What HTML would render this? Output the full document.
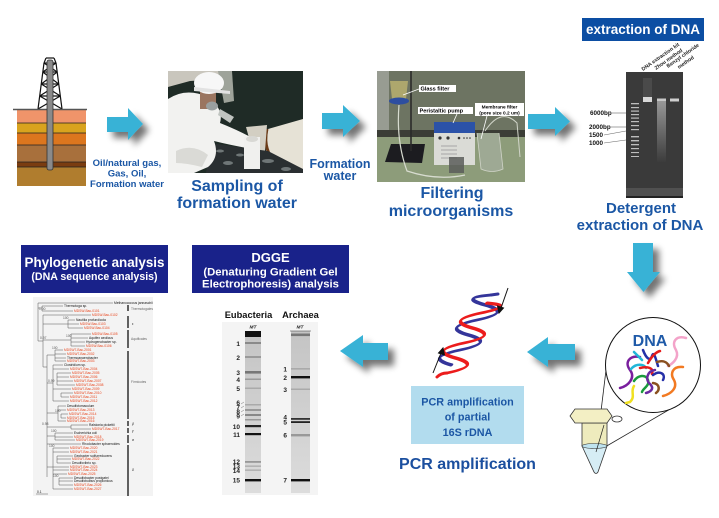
<!DOCTYPE html>
<html><head><meta charset="utf-8">
<style>
html,body{margin:0;padding:0;background:#fff;}
body{width:719px;height:518px;overflow:hidden;}
svg{display:block;}
text{font-family:"Liberation Sans",Arial,sans-serif;font-weight:bold;}
.t text{font-weight:normal;font-size:3.3px;}
</style></head><body>
<svg width="719" height="518" viewBox="0 0 719 518" xmlns="http://www.w3.org/2000/svg">
<defs>
<filter id="sh" x="-60%" y="-60%" width="240%" height="240%">
<feGaussianBlur in="SourceAlpha" stdDeviation="3.5" result="b"/>
<feOffset in="b" dx="6" dy="6" result="o"/>
<feComponentTransfer in="o" result="s"><feFuncA type="linear" slope="0.55"/></feComponentTransfer>
<feMerge><feMergeNode in="s"/><feMergeNode in="SourceGraphic"/></feMerge>
</filter>
<linearGradient id="smear" x1="0" y1="0" x2="0" y2="1">
<stop offset="0" stop-color="#9a9a9a"/><stop offset="0.5" stop-color="#6a6a6a"/><stop offset="1" stop-color="#3c3c3c"/>
</linearGradient>
<linearGradient id="lane" x1="0" y1="0" x2="0" y2="1">
<stop offset="0" stop-color="#c4c4c4"/><stop offset="1" stop-color="#dcdcdc"/>
</linearGradient>
</defs>

<!-- ===== Oil well ===== -->
<rect x="17" y="109" width="69" height="14" fill="#f0946a"/>
<rect x="17" y="123" width="69" height="10" fill="#d9a31e"/>
<rect x="17" y="133" width="69" height="12" fill="#dc761e"/>
<rect x="17" y="145" width="69" height="17" fill="#a8703c"/>
<rect x="17" y="162" width="69" height="5" fill="#7a3c10"/>
<rect x="17" y="167" width="69" height="19" fill="#b07d2e"/>
<g stroke="#222" stroke-width="0.8">
<line x1="17" y1="123" x2="86" y2="123"/><line x1="17" y1="133" x2="86" y2="133"/>
<line x1="17" y1="145" x2="86" y2="145"/><line x1="17" y1="162" x2="86" y2="162"/>
<line x1="17" y1="167" x2="86" y2="167"/>
</g>
<g stroke="#111" stroke-width="1.2" fill="none">
<line x1="38" y1="109" x2="44" y2="63"/><line x1="62" y1="109" x2="56" y2="63"/>
<line x1="44" y1="63" x2="56" y2="63"/>
<line x1="42.8" y1="72" x2="57.2" y2="72"/><line x1="41.3" y1="84" x2="58.7" y2="84"/>
<line x1="39.7" y1="96" x2="60.3" y2="96"/>
<line x1="44" y1="63" x2="57.2" y2="72"/><line x1="56" y1="63" x2="42.8" y2="72"/>
<line x1="42.8" y1="72" x2="58.7" y2="84"/><line x1="57.2" y1="72" x2="41.3" y2="84"/>
<line x1="41.3" y1="84" x2="60.3" y2="96"/><line x1="58.7" y1="84" x2="39.7" y2="96"/>
<line x1="39.7" y1="96" x2="62" y2="109"/><line x1="60.3" y1="96" x2="38" y2="109"/>
<line x1="46" y1="58" x2="54" y2="58"/><line x1="46" y1="58" x2="44" y2="63"/><line x1="54" y1="58" x2="56" y2="63"/>
</g>
<line x1="13" y1="109.5" x2="87" y2="109.5" stroke="#555" stroke-width="1.5"/>
<rect x="47" y="60" width="6" height="110" rx="2" fill="#8a8a8a" stroke="#333" stroke-width="0.8"/>

<text x="127" y="166" font-size="9.5" fill="#1b57a5" text-anchor="middle">Oil/natural gas,</text>
<text x="127" y="176.5" font-size="9.5" fill="#1b57a5" text-anchor="middle">Gas, Oil,</text>
<text x="127" y="187" font-size="9.5" fill="#1b57a5" text-anchor="middle">Formation water</text>

<!-- ===== Arrows ===== -->
<g fill="#37b2d6" filter="url(#sh)">
<polygon points="107,117 128,117 128,108 143,124 128,140 128,132 107,132"/>
<polygon points="322,113 343,113 343,105 360,121 343,137 343,129 322,129"/>
<polygon points="528,114 555,114 555,107 570,121.5 555,136 555,129 528,129"/>
<polygon points="633,243 653,243 653,272 660,272 643.5,292 627,272 633,272"/>
<polygon points="527,352 548,337 548,344 575,344 575,360 548,360 548,367"/>
<polygon points="340,351 363,335 363,343 388,343 388,360 363,360 363,367"/>
</g>

<!-- ===== Photo 1: sampling ===== -->
<g transform="translate(168,71)">
<rect width="135" height="102" fill="#1f2b26"/>
<polygon points="0,0 64,0 56,8 22,10 0,16" fill="#c9c6bd"/>
<polygon points="50,0 64,0 66,30 56,32" fill="#9ea39a"/>
<polygon points="100,58 135,48 135,102 112,96 98,80" fill="#e6e2d6"/>
<path d="M99,58 Q95,74 104,88 L114,97" stroke="#6b3a16" stroke-width="3" fill="none"/>
<polygon points="78,56 99,54 97,80 84,78" fill="#d3cfc3"/>
<polygon points="42,72 100,80 135,98 135,102 38,102" fill="#2a2f31"/>
<g fill="#8d9595" opacity="0.7">
<ellipse cx="60" cy="92" rx="5" ry="2"/><ellipse cx="100" cy="90" rx="6" ry="2"/>
<ellipse cx="118" cy="98" rx="5" ry="2"/><ellipse cx="72" cy="84" rx="4" ry="1.5"/>
<ellipse cx="52" cy="80" rx="4" ry="1.5"/>
</g>
<path d="M0,28 Q18,16 40,26 Q56,38 52,52 Q72,60 86,68 L84,78 Q62,74 46,70 Q52,86 40,96 L26,102 L0,102 Z" fill="#f2f2f0"/>
<path d="M8,80 Q25,72 40,84 L34,96 Q18,92 8,92 Z" fill="#dadad6"/>
<rect x="32" y="20" width="16" height="18" fill="#9a7560"/>
<ellipse cx="44" cy="35" rx="6" ry="4.5" fill="#9aa0a0"/>
<ellipse cx="41" cy="12" rx="15" ry="11" fill="#f7f7f7"/>
<path d="M26,16 L62,20 L62,23 L26,20Z" fill="#e2e2e2"/>
<path d="M52,38 L66,46 L62,52 L50,44Z" fill="#c0c4c0"/>
<rect x="76" y="66" width="16" height="32" fill="#f0f0ee"/>
<ellipse cx="84" cy="68" rx="6" ry="3" fill="#d8d8d4"/>
</g>
<text x="237" y="191" font-size="16" fill="#1b57a5" text-anchor="middle">Sampling of</text>
<text x="237" y="208" font-size="16" fill="#1b57a5" text-anchor="middle">formation water</text>

<text x="340" y="168" font-size="12.5" fill="#1b57a5" text-anchor="middle">Formation</text>
<text x="340" y="180" font-size="12.5" fill="#1b57a5" text-anchor="middle">water</text>

<!-- ===== Photo 2: filtering ===== -->
<g transform="translate(377,71)">
<rect width="148" height="111" fill="#6d7462"/>
<rect x="0" y="0" width="12" height="60" fill="#989c92"/>
<rect x="0" y="59" width="148" height="7" fill="#3b3d36"/>
<rect x="0" y="66" width="148" height="45" fill="#8d9c7a"/>
<polygon points="8,91 14,73 48,73 45,92" fill="#1c1c20"/>
<line x1="34" y1="0" x2="34" y2="80" stroke="#2a2a2a" stroke-width="1.6"/>
<path d="M13,10 L31,10 L29,28 L15,28Z" fill="#b8b070" opacity="0.85"/>
<ellipse cx="22" cy="30" rx="10" ry="3.5" fill="#2d4ea0"/>
<path d="M22,34 Q19,70 30,100 Q60,110 88,104" stroke="#d8dcd0" stroke-width="1.2" fill="none"/>
<rect x="57" y="51" width="41" height="11" fill="#2b52a8"/>
<rect x="57" y="62" width="41" height="32" fill="#dadbd6"/>
<g fill="#333"><circle cx="63" cy="67" r="1.6"/><circle cx="71" cy="67" r="1.6"/><circle cx="82" cy="67" r="1.3"/><circle cx="87" cy="67" r="0.8"/><circle cx="90" cy="67" r="0.8"/><circle cx="93" cy="67" r="0.8"/></g>
<g stroke="#999" stroke-width="0.8"><line x1="64" y1="75" x2="80" y2="75"/><line x1="64" y1="79" x2="80" y2="79"/><line x1="64" y1="83" x2="80" y2="83"/><line x1="64" y1="87" x2="80" y2="87"/></g>
<rect x="72" y="86" width="15" height="16" fill="#5a5d5a" opacity="0.85"/>
<path d="M100,62 L104,98 Q115,103 126,98 L122,62" fill="#9ea994" stroke="#d0d4c8" stroke-width="0.8"/>
<path d="M108,60 Q124,36 140,52 L143,86" stroke="#d0d4c8" stroke-width="1" fill="none"/>
<rect x="42" y="14" width="37" height="7" fill="#fff"/>
<text x="43.5" y="19.5" font-size="5.6" fill="#000">Glass filter</text>
<line x1="42" y1="18" x2="26" y2="24" stroke="#fff" stroke-width="0.8"/>
<rect x="41" y="36" width="55" height="7" fill="#fff"/>
<text x="42.5" y="41.5" font-size="5.6" fill="#000">Peristaltic pump</text>
<line x1="80" y1="43" x2="76" y2="52" stroke="#fff" stroke-width="0.8"/>
<rect x="98" y="32" width="49" height="13" fill="#fff"/>
<text x="122.5" y="37.5" font-size="4.8" fill="#000" text-anchor="middle">Membrane filter</text>
<text x="122.5" y="43.3" font-size="4.8" fill="#000" text-anchor="middle">(pore size 0.2 um)</text>
<line x1="110" y1="45" x2="104" y2="68" stroke="#fff" stroke-width="0.8"/>
</g>
<text x="452" y="198" font-size="16" fill="#1b57a5" text-anchor="middle">Filtering</text>
<text x="451" y="216" font-size="16" fill="#1b57a5" text-anchor="middle">microorganisms</text>

<!-- ===== Extraction of DNA ===== -->
<rect x="582" y="18" width="122" height="23" fill="#0c4ea3"/>
<text x="643" y="34" font-size="13.5" fill="#fff" text-anchor="middle">extraction of DNA</text>
<g font-size="5.2" fill="#222">
<text transform="translate(643,71) rotate(-35)">DNA extraction kit</text>
<text transform="translate(656,70) rotate(-35)">Zhou method</text>
<text transform="translate(668,68) rotate(-35)">Benzyl chloride</text>
<text transform="translate(679,69) rotate(-35)">method</text>
</g>
<rect x="626" y="72" width="57" height="126" fill="#3a3a3a"/>
<rect x="626" y="188" width="57" height="8" fill="#505050"/>
<rect x="626" y="196" width="57" height="2" fill="#222"/>
<g fill="#bdbdbd">
<rect x="631" y="103" width="8" height="1.3"/><rect x="631" y="107" width="8" height="1.2"/><rect x="631" y="110.5" width="8" height="1.2"/>
<rect x="631" y="114" width="8" height="1.2"/><rect x="631" y="117.5" width="8" height="1.2"/><rect x="631" y="121" width="8" height="1.2"/>
<rect x="631" y="125" width="8" height="1.2"/><rect x="631" y="129" width="8" height="1.2"/>
<rect x="631" y="136" width="8" height="1.4"/><rect x="631" y="140" width="8" height="1.4"/><rect x="631" y="144" width="8" height="1.3"/>
<rect x="631" y="148" width="8" height="1.2"/><rect x="631" y="152" width="8" height="1.1"/><rect x="631" y="156" width="8" height="1"/>
</g>
<rect x="643" y="78" width="9" height="20" fill="#4a4a4a"/>
<rect x="643" y="97" width="9" height="5" fill="#d8d8d8"/>
<rect x="657" y="100" width="9" height="62" fill="url(#smear)"/>
<rect x="657" y="98.5" width="9" height="2.5" fill="#c8c8c8"/>
<rect x="670" y="98.5" width="9" height="3" fill="#cfcfcf"/>
<g font-size="6.3" fill="#111">
<text x="590" y="115">6000bp</text>
<text x="589" y="129">2000bp</text>
<text x="589" y="137">1500</text>
<text x="589" y="145">1000</text>
</g>
<g stroke="#666" stroke-width="0.6">
<line x1="612" y1="113" x2="626" y2="113"/><line x1="611" y1="127" x2="626" y2="127"/>
<line x1="604" y1="135" x2="626" y2="131"/><line x1="604" y1="143" x2="626" y2="140"/>
</g>
<text x="641" y="213" font-size="15" fill="#1b57a5" text-anchor="middle">Detergent</text>
<text x="640" y="230" font-size="15" fill="#1b57a5" text-anchor="middle">extraction of DNA</text>

<!-- ===== Tube + circle ===== -->
<g stroke="#222" stroke-width="0.8">
<line x1="596" y1="452" x2="607" y2="362"/>
<line x1="605" y1="447" x2="672" y2="408"/>
</g>
<circle cx="653" cy="365" r="47.5" fill="#fff" stroke="#111" stroke-width="1"/>
<path d="M582,446 L594,472 Q596,475 598,472 L607,446 Z" fill="#d6edf5" stroke="#333" stroke-width="0.8"/>
<rect x="582" y="423" width="25" height="23" fill="#eeebbd" stroke="#333" stroke-width="0.8"/>
<ellipse cx="594.5" cy="446" rx="12.5" ry="2.5" fill="#bfe3ef" stroke="#333" stroke-width="0.6"/>
<ellipse cx="617" cy="419" rx="5" ry="3" fill="none" stroke="#333" stroke-width="0.8"/>
<polygon points="570,416 575,409 607,409 612,416 607,423 575,423" fill="#f3efc4" stroke="#333" stroke-width="0.8"/>
<line x1="596" y1="452" x2="604" y2="425" stroke="#222" stroke-width="0.7"/>
<g fill="none" stroke-width="2.5" stroke-linecap="round">
<path d="M686,338 C676,335 671,342 676,350 C680,358 672,364 668,366" stroke="#f3a3c9"/>
<path d="M683,367 C672,366 670,374 674,380 C678,388 671,394 663,396" stroke="#f27a22"/>
<path d="M640,357 C630,355 624,362 630,370 C636,378 628,386 620,388" stroke="#7a1f9e"/>
<path d="M634,352 L642,360" stroke="#22b7d8"/>
<path d="M631,369 C636,363 644,364 646,368" stroke="#22b7d8"/>
<path d="M643,350 C646,358 650,362 652,356 C654,350 656,360 658,366" stroke="#2530a8"/>
<path d="M648,363 C652,356 656,352 660,351" stroke="#e61b1b"/>
<path d="M640,368 C648,366 654,368 652,374" stroke="#e61b1b"/>
<path d="M634,381 C638,375 646,374 648,380 C650,386 643,388 642,392" stroke="#1a9a3c"/>
<path d="M634,386 C630,392 636,396 630,402 L626,403" stroke="#f0e020"/>
<path d="M655,370 C647,371 645,380 650,384 C655,389 650,392 646,393" stroke="#6a2aa0"/>
<path d="M653,375 C660,370 666,374 663,380" stroke="#2530a8"/>
<path d="M657,362 C663,360 667,362 669,366" stroke="#8a5020"/>
<path d="M653,383 C660,384 660,390 656,393" stroke="#8a5020"/>
</g>
<text x="650" y="346" font-size="16" fill="#1f5aa8" text-anchor="middle">DNA</text>

<!-- ===== Helix ===== -->
<g transform="translate(447,373) skewX(-29.5)" fill="none" stroke-width="3" stroke-linecap="round">
<path d="M0,-8 Q-32,-15.5 0,-23 T0,-38 T0,-53 T0,-68 T0,-78" stroke="#34359a"/>
<path d="M0,0 Q32,-7.5 0,-15 T0,-30 T0,-45 T0,-60 T0,-70" stroke="#ec1c1c"/>
</g>
<path d="M437,377 Q441,373 447,373" stroke="#ec1c1c" stroke-width="3" fill="none" stroke-linecap="round"/>
<path d="M491,295 L498,294" stroke="#34359a" stroke-width="3" fill="none" stroke-linecap="round"/>
<g stroke="#111" stroke-width="1" fill="#111">
<line x1="508" y1="288" x2="501" y2="308"/><polygon points="499,313 497.5,306 503.5,308"/>
<line x1="433" y1="373" x2="441" y2="353"/><polygon points="443,348 444.5,355 438.5,353"/>
</g>

<!-- ===== PCR box ===== -->
<rect x="411" y="386" width="113" height="58" fill="#b2dcee"/>
<text x="467.5" y="405.5" font-size="10.8" fill="#1b56a4" text-anchor="middle">PCR amplification</text>
<text x="467.5" y="420.5" font-size="10.8" fill="#1b56a4" text-anchor="middle">of partial</text>
<text x="467.5" y="436" font-size="10.8" fill="#1b56a4" text-anchor="middle">16S rDNA</text>
<text x="467.5" y="469" font-size="16" fill="#1b4f9f" text-anchor="middle">PCR amplification</text>

<!-- ===== Headers bottom ===== -->
<rect x="21" y="245" width="147" height="48" fill="#19228a"/>
<text x="94.5" y="267" font-size="13.4" fill="#fff" text-anchor="middle">Phylogenetic analysis</text>
<text x="94.5" y="280" font-size="10.6" fill="#fff" text-anchor="middle">(DNA sequence analysis)</text>
<rect x="192" y="245" width="157" height="48" fill="#19228a"/>
<text x="270.5" y="262" font-size="13" fill="#fff" text-anchor="middle">DGGE</text>
<text x="270.5" y="275.5" font-size="11.3" fill="#fff" text-anchor="middle">(Denaturing Gradient Gel</text>
<text x="270.5" y="287.5" font-size="11.3" fill="#fff" text-anchor="middle">Electrophoresis) analysis</text>

<!-- ===== Phylogenetic tree ===== -->
<g transform="translate(33,297)" class="t">
<rect width="120" height="199" fill="#f3f3f3"/>
<g stroke="#555" stroke-width="0.5" fill="none">
<path d="M5,6V44M5,6H80M5,11H9M9,9V14M9,9H30M9,14H40M5,44H10"/>
<path d="M10,18V70M10,18H58M10,27H35M35,23V31M35,23H42M35,27H46M35,31H50M10,43H38M38,37V49M38,37H58M38,41H55M38,45H52M38,49H52M10,70H14"/>
<path d="M14,58V180M14,58H22M22,53V64M22,53H30M22,57H33M22,61H33M22,64H33"/>
<path d="M14,86H20M20,68V104M20,68H30M20,72H36M24,76V88M24,76H38M24,80H36M24,84H40M24,88H42M20,92H38M28,96V100M28,96H40M28,100H36M20,104H36"/>
<path d="M14,116H25M25,109V124M25,109H33M25,113H33M28,117V121M28,117H35M28,121H33M25,124H33"/>
<path d="M14,130H38M38,128V132M38,128H55M38,132H58"/>
<path d="M14,139H22M22,136V143M22,136H40M22,140H40M22,143H42M14,147H48"/>
<path d="M14,170H20M20,151V192M20,151H36M20,155H36M24,159V166M24,159H40M24,162H38M24,166H38M20,170H36M20,173H36M20,177H34M26,181V188M26,181H40M26,184H40M26,188H40M20,192H40"/>
<path d="M3,197H15"/>
</g>
<g fill="#111">
<text x="81" y="7.2">Methanococcus jannaschii</text>
<text x="31" y="10.2">Thermotoga sp.</text>
<text x="43" y="24.2">Nautilia profundicola</text>
<text x="56" y="42.2">Aquifex aeolicus</text>
<text x="53" y="46.2">Hydrogenobacter sp.</text>
<text x="34" y="62.2">Thermoanaerobacter</text>
<text x="31" y="69.2">Clostridium sp.</text>
<text x="34" y="110.2">Desulfotomaculum</text>
<text x="56" y="129.2">Ralstonia pickettii</text>
<text x="41" y="137.2">Escherichia coli</text>
<text x="49" y="148.2">Rhodobacter sphaeroides</text>
<text x="41" y="160.2">Geobacter sulfurreducens</text>
<text x="39" y="167.2">Desulfovibrio sp.</text>
<text x="41" y="182.2">Desulfobacter postgatei</text>
<text x="41" y="185.2">Desulfobulbus propionicus</text>
<text x="4" y="196">0.1</text>
</g>
<g fill="#e8461e">
<text x="41" y="15.2">MDSW-Bac-0101</text>
<text x="59" y="19.2">MDSW-Bac-0102</text>
<text x="47" y="28.2">MDSW-Bac-0103</text>
<text x="51" y="32.2">MDSW-Bac-0104</text>
<text x="59" y="38.2">MDSW-Bac-0105</text>
<text x="53" y="50.2">MDSW-Bac-0106</text>
<text x="31" y="54.2">MDSW7-Bac-2001</text>
<text x="34" y="58.2">MDSW7-Bac-2002</text>
<text x="34" y="65.2">MDSW7-Bac-2003</text>
<text x="37" y="73.2">MDSW7-Bac-2004</text>
<text x="39" y="77.2">MDSW7-Bac-2005</text>
<text x="37" y="81.2">MDSW7-Bac-2006</text>
<text x="41" y="85.2">MDSW7-Bac-2007</text>
<text x="43" y="89.2">MDSW7-Bac-2008</text>
<text x="39" y="93.2">MDSW7-Bac-2009</text>
<text x="41" y="97.2">MDSW7-Bac-2010</text>
<text x="37" y="101.2">MDSW7-Bac-2011</text>
<text x="37" y="105.2">MDSW7-Bac-2012</text>
<text x="34" y="114.2">MDSW7-Bac-2013</text>
<text x="36" y="118.2">MDSW7-Bac-2014</text>
<text x="34" y="122.2">MDSW7-Bac-2015</text>
<text x="34" y="125.2">MDSW7-Bac-2016</text>
<text x="59" y="133.2">MDSW7-Bac-2017</text>
<text x="41" y="141.2">MDSW7-Bac-2018</text>
<text x="43" y="144.2">MDSW7-Bac-2019</text>
<text x="37" y="152.2">MDSW7-Bac-2020</text>
<text x="37" y="156.2">MDSW7-Bac-2021</text>
<text x="39" y="163.2">MDSW7-Bac-2022</text>
<text x="37" y="171.2">MDSW7-Bac-2023</text>
<text x="37" y="174.2">MDSW7-Bac-2024</text>
<text x="35" y="178.2">MDSW7-Bac-2025</text>
<text x="41" y="189.2">MDSW7-Bac-2026</text>
<text x="41" y="193.2">MDSW7-Bac-2027</text>
</g>
<g fill="#555" style="font-size:2.6px">
<text x="6" y="13">1.00</text><text x="30" y="22">100</text><text x="7" y="42">0.97</text>
<text x="33" y="40">100</text><text x="15" y="85">0.99</text><text x="19" y="52">100</text>
<text x="22" y="115">100</text><text x="9" y="128">0.98</text><text x="18" y="135">100</text>
<text x="16" y="150">100</text><text x="20" y="180">100</text>
</g>
<g stroke="#111" stroke-width="1.3">
<line x1="95" y1="8" x2="95" y2="14"/><line x1="95" y1="19" x2="95" y2="31"/>
<line x1="95" y1="33" x2="95" y2="51"/><line x1="95" y1="54" x2="95" y2="122"/>
<line x1="95" y1="124" x2="95" y2="129"/><line x1="95" y1="131" x2="95" y2="136"/>
<line x1="95" y1="138" x2="95" y2="146"/><line x1="95" y1="148" x2="95" y2="199"/>
</g>
<g fill="#666" style="font-size:3.5px">
<text x="98" y="13">Thermotogales</text>
<text x="98" y="43">Aquificales</text>
<text x="98" y="86">Firmicutes</text>
</g>
<g fill="#111" style="font-size:7px;font-style:italic;font-family:'Liberation Serif',serif">
<text x="99" y="28">ε</text><text x="99" y="128">β</text><text x="99" y="135">γ</text>
<text x="99" y="144">α</text><text x="99" y="174">δ</text>
</g>
</g>

<!-- ===== DGGE gel ===== -->
<rect x="222" y="322" width="96" height="173" fill="#f4f4f4"/>
<text x="248.5" y="318" font-size="9.3" fill="#111" text-anchor="middle">Eubacteria</text>
<text x="300.5" y="318" font-size="9.3" fill="#111" text-anchor="middle">Archaea</text>
<text x="253" y="328.5" font-size="4.8" fill="#222" text-anchor="middle" font-style="italic">MT</text>
<text x="300" y="328.5" font-size="4.8" fill="#222" text-anchor="middle" font-style="italic">MT</text>
<rect x="245" y="331" width="16" height="162" fill="url(#lane)"/>
<rect x="291" y="331" width="19" height="162" fill="url(#lane)"/>
<g>
<rect x="245" y="331" width="16" height="6" fill="#111"/>
<rect x="245" y="342" width="16" height="2" fill="#8a8a8a"/>
<rect x="245" y="356" width="16" height="2" fill="#9a9a9a"/>
<rect x="245" y="371" width="16" height="2.6" fill="#777"/>
<rect x="245" y="378.5" width="16" height="1.5" fill="#9a9a9a"/>
<rect x="245" y="387.5" width="16" height="1.5" fill="#aaa"/>
<rect x="245" y="404" width="16" height="1.5" fill="#aaa"/>
<rect x="245" y="409" width="16" height="2" fill="#999"/>
<rect x="245" y="414" width="16" height="2" fill="#888"/>
<rect x="245" y="419" width="16" height="1.5" fill="#999"/>
<rect x="245" y="425" width="16" height="2.2" fill="#222"/>
<rect x="245" y="433" width="16" height="2.2" fill="#111"/>
<rect x="245" y="461" width="16" height="1.8" fill="#999"/>
<rect x="245" y="465.5" width="16" height="1.3" fill="#aaa"/>
<rect x="245" y="469.5" width="16" height="1.3" fill="#aaa"/>
<rect x="245" y="479" width="16" height="2.4" fill="#111"/>
<rect x="291" y="333.5" width="19" height="2.6" fill="#777"/>
<line x1="290" y1="331" x2="311" y2="331" stroke="#333" stroke-width="0.6"/>
<rect x="291" y="368" width="19" height="1.6" fill="#aaa"/>
<rect x="291" y="376" width="19" height="2.4" fill="#111"/>
<rect x="291" y="388.5" width="19" height="1.5" fill="#aaa"/>
<rect x="291" y="418" width="19" height="1.8" fill="#333"/>
<rect x="291" y="421.2" width="19" height="1.8" fill="#222"/>
<rect x="291" y="434" width="19" height="2.4" fill="#999"/>
<rect x="291" y="479" width="19" height="2.4" fill="#111"/>
</g>
<g font-size="6.5" fill="#222" style="font-weight:normal" text-anchor="end">
<text x="240" y="346">1</text><text x="240" y="360">2</text><text x="240" y="375">3</text>
<text x="240" y="382">4</text><text x="240" y="391">5</text><text x="240" y="405">6</text>
<text x="240" y="409.5">7</text><text x="240" y="414">8</text><text x="240" y="418.5">9</text>
<text x="240" y="429">10</text><text x="240" y="437">11</text><text x="240" y="464">12</text>
<text x="240" y="468.5">13</text><text x="240" y="473">14</text><text x="240" y="482.5">15</text>
<text x="287" y="371.5">1</text><text x="287" y="380">2</text><text x="287" y="392">3</text>
<text x="287" y="419.5">4</text><text x="287" y="424.5">5</text><text x="287" y="437.5">6</text>
<text x="287" y="482.5">7</text>
</g>
<g stroke="#555" stroke-width="0.4">
<line x1="241" y1="404" x2="244" y2="402"/><line x1="241" y1="408" x2="244" y2="406"/>
<line x1="241" y1="412" x2="244" y2="410"/><line x1="241" y1="416" x2="244" y2="414"/>
</g>
</svg>
</body></html>
